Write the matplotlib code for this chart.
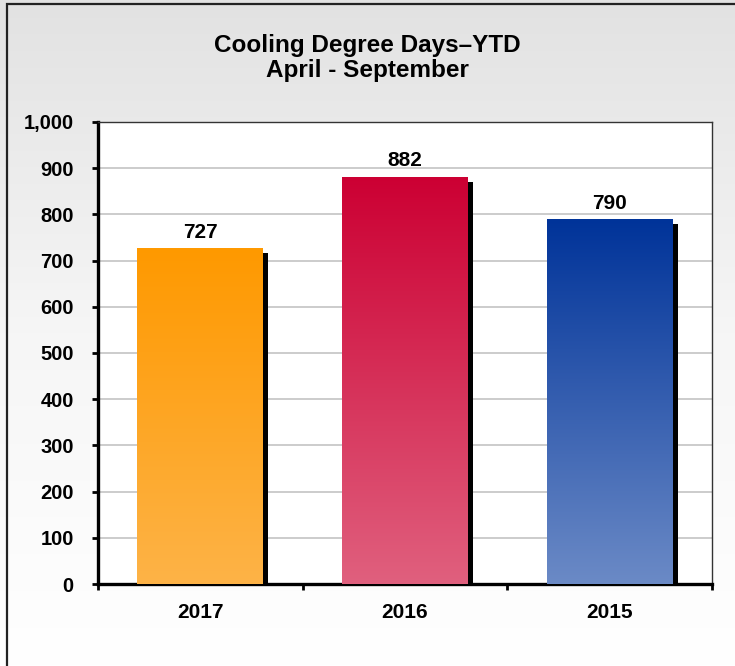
import numpy as np
import matplotlib
matplotlib.use('Agg')
import matplotlib.pyplot as plt
import matplotlib.patheffects as pe
from matplotlib.colors import LinearSegmentedColormap
from matplotlib.patches import Rectangle
from matplotlib.ticker import FuncFormatter

plt.rcParams['font.family'] = ['Liberation Sans', 'DejaVu Sans']

# data
years = ['2017', '2016', '2015']
cdd = [727, 882, 790]
top_colors = ['#FF9900', '#CC0033', '#003399']
bottom_colors = ['#FDB347', '#E0607E', '#6B8AC6']

fig = plt.figure(figsize=(7.35, 6.66), dpi=100)

# gray-to-white background
bg = fig.add_axes([0, 0, 1, 1], zorder=-10)
grad = np.linspace(0, 1, 256).reshape(-1, 1)
bg.imshow(grad, aspect='auto', extent=(0, 1, 0, 1), origin='lower',
          cmap=LinearSegmentedColormap.from_list('bg', ['#ffffff', '#f6f6f6', '#e2e2e2']))
bg.add_patch(Rectangle((7 / 735, -0.1), 1.2, 1.1 - 4 / 666, fill=False,
                       edgecolor='#222222', lw=1.6))
bg.set_xlim(0, 1)
bg.set_ylim(0, 1)
bg.axis('off')

ax = fig.add_axes([98 / 735, 1 - 584 / 666, 614 / 735, 462 / 666])
ax.set_facecolor('white')

x = np.arange(len(years))
width = 0.615
bars = ax.bar(x, cdd, width=width, color='none', edgecolor='none', zorder=3,
              path_effects=[pe.SimplePatchShadow(offset=(3.6, -3.6), shadow_rgbFace='black', alpha=1),
                            pe.Normal()])

for b, c_top, c_bot in zip(bars, top_colors, bottom_colors):
    cm = LinearSegmentedColormap.from_list('g', [c_bot, c_top])
    x0, h = b.get_x(), b.get_height()
    im = ax.imshow(grad, aspect='auto', origin='lower', cmap=cm,
                   extent=(x0, x0 + b.get_width(), 0, h), zorder=4)
    im.set_clip_path(b)
    ax.annotate(f'{h:.0f}', (x0 + b.get_width() / 2, h), xytext=(0, 4.5),
                textcoords='offset points', ha='center', va='bottom',
                fontsize=15, fontweight='bold', zorder=5)

ax.set_xlim(-0.5, len(years) - 0.5)
ax.set_ylim(0, 1000)
ax.set_yticks(np.arange(0, 1001, 100))
ax.yaxis.set_major_formatter(FuncFormatter(lambda v, p: f'{v:,.0f}'))
ax.grid(axis='y', color='#c4c4c4', lw=1.2, zorder=0)
ax.set_axisbelow(True)

ax.set_xticks(x)
ax.set_xticklabels(years)
ax.set_xticks(np.arange(-0.5, len(years)), minor=True)
ax.tick_params(axis='x', which='major', length=0, pad=14)
ax.tick_params(axis='x', which='minor', length=4, width=2, direction='out')
ax.tick_params(axis='y', length=4.5, width=2, direction='out', pad=13)
for lab in ax.get_xticklabels():
    lab.set_fontsize(15)
    lab.set_fontweight('bold')
for lab in ax.get_yticklabels():
    lab.set_fontsize(14.5)
    lab.set_fontweight('bold')

for s in ['left', 'bottom']:
    ax.spines[s].set_linewidth(2.4)
    ax.spines[s].set_color('black')
for s in ['top', 'right']:
    ax.spines[s].set_linewidth(1)
    ax.spines[s].set_color('#333333')

fig.text(0.5, 1 - 52 / 666, 'Cooling Degree Days\u2013YTD',
         ha='center', va='baseline', fontsize=17.5, fontweight='bold')
fig.text(0.5, 1 - 77 / 666, 'April - September',
         ha='center', va='baseline', fontsize=17.5, fontweight='bold')

fig.savefig('out.png', dpi=100)
